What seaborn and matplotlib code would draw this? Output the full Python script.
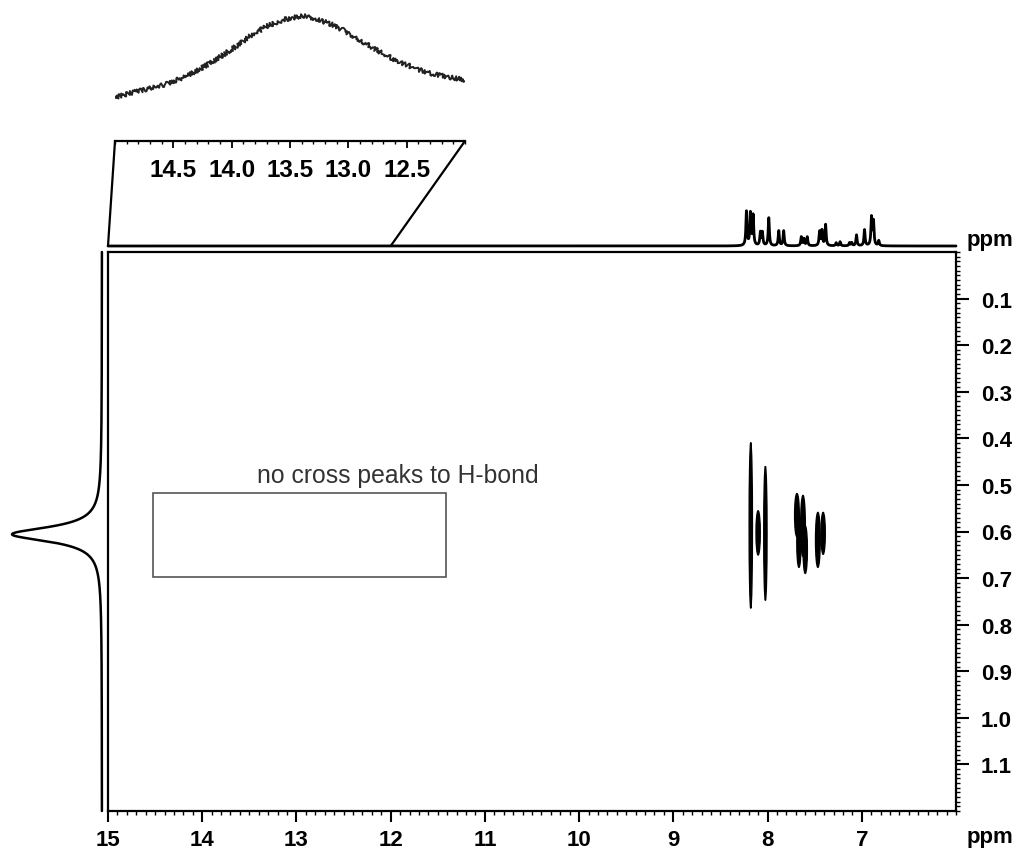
import numpy as np
import matplotlib
matplotlib.use("Agg")
import matplotlib.pyplot as plt
from matplotlib.patches import Ellipse, Rectangle, ConnectionPatch
from matplotlib.ticker import MultipleLocator
import seaborn as sns

# ------------------------------------------------------------
# Data
# ------------------------------------------------------------
# 1D projection on top (F2, ppm) : peak positions and relative heights
top_ppm = [8.224, 8.182, 8.153, 8.076, 8.055, 7.987, 7.881, 7.829, 7.642, 7.614,
           7.579, 7.448, 7.423, 7.384, 7.272, 7.230, 7.130, 7.106, 7.056, 6.971,
           6.897, 6.876, 6.820]
top_height = [1.00, 0.94, 0.88, 0.38, 0.38, 0.82, 0.44, 0.44, 0.26, 0.20,
              0.26, 0.41, 0.44, 0.62, 0.09, 0.12, 0.09, 0.09, 0.32, 0.47,
              0.82, 0.70, 0.15]
top_hwhm = 0.007

# Broad H-bond signal in the zoomed inset (ppm, intensity)
hump_ppm = [15.0, 14.843, 14.7, 14.557, 14.414, 14.271, 14.129, 13.986, 13.843,
            13.7, 13.557, 13.414, 13.357, 13.271, 13.129, 12.986, 12.843, 12.7,
            12.557, 12.414, 12.271, 12.129, 12.0]
hump_int = [43.7, 48.7, 52.7, 57.0, 63.7, 72.0, 82.0, 92.7, 104.7, 114.7, 121.3,
            124.7, 124.7, 122.0, 116.0, 107.0, 97.0, 87.0, 78.7, 72.0, 67.0, 63.7, 61.0]

# Projection on the left (F1, ppm)
left_ppm = [0.606]
left_height = [1.0]
left_hwhm = 0.019

# Cross peaks: centre (x, y), full extent along F1, width along F2
cross_x = [8.178, 8.100, 8.023, 7.688, 7.667, 7.624, 7.600, 7.466, 7.410]
cross_y = [0.587, 0.603, 0.604, 0.565, 0.622, 0.588, 0.639, 0.618, 0.604]
cross_len = [0.356, 0.095, 0.288, 0.093, 0.110, 0.131, 0.102, 0.118, 0.090]
cross_wid = [0.035, 0.045, 0.035, 0.050, 0.045, 0.050, 0.045, 0.050, 0.045]

# "no cross peaks" region
box_x = [14.52, 11.41]
box_y = [0.517, 0.697]
note_text = "no cross peaks to H-bond"

x_ticks = [15, 14, 13, 12, 11, 10, 9, 8, 7]
y_ticks = [0.1, 0.2, 0.3, 0.4, 0.5, 0.6, 0.7, 0.8, 0.9, 1.0, 1.1]
inset_ticks = [14.5, 14.0, 13.5, 13.0, 12.5]

# ------------------------------------------------------------
sns.set_theme(style="ticks")
plt.rcParams["font.family"] = ["Liberation Sans", "DejaVu Sans"]
plt.rcParams["axes.linewidth"] = 1.6
for k in ["text.color", "axes.edgecolor", "xtick.color", "ytick.color",
          "axes.labelcolor"]:
    plt.rcParams[k] = "black"

W, H = 1030, 854
fig = plt.figure(figsize=(W / 100, H / 100), dpi=100)


def box(l, t, r, b):
    return [l / W, 1 - b / H, (r - l) / W, (b - t) / H]


def lorentz_sum(grid, centres, heights, hwhm):
    out = np.zeros_like(grid)
    for c, h in zip(centres, heights):
        out += h * hwhm ** 2 / ((grid - c) ** 2 + hwhm ** 2)
    return out


ax = fig.add_axes(box(108, 253, 956, 812))
ax_top = fig.add_axes(box(108, 200, 956, 247))
ax_left = fig.add_axes(box(2, 253, 102, 812))
ax_in = fig.add_axes(box(115, 10, 465, 142))

tick_font = dict(fontsize=16, fontweight="bold")

# ---- main 2D plot ----
for x, y, ln, wd in zip(cross_x, cross_y, cross_len, cross_wid):
    ax.add_patch(Ellipse((x, y), wd, ln, facecolor="black", edgecolor="black", lw=1))
ax.add_patch(Rectangle((box_x[0], box_y[0]), box_x[1] - box_x[0], box_y[1] - box_y[0],
                       fill=False, edgecolor="#555555", lw=1.2))
ax.text(11.92, box_y[0] - 0.024, note_text, ha="center", va="baseline",
        fontsize=17.8, color="#333333")
ax.set_xlim(15, 6)
ax.set_ylim(1.2, 0)
ax.set_xticks(x_ticks)
ax.set_xticklabels([str(t) for t in x_ticks], **tick_font)
ax.xaxis.set_minor_locator(MultipleLocator(0.1))
ax.yaxis.tick_right()
ax.set_yticks(y_ticks)
ax.set_yticklabels([f"{t:.1f}" for t in y_ticks], **tick_font)
ax.yaxis.set_minor_locator(MultipleLocator(0.01))
ax.tick_params(axis="x", which="major", direction="out", length=8, width=1.5, pad=5,
               top=False)
ax.tick_params(axis="x", which="minor", direction="out", length=3, width=1, top=False)
ax.tick_params(axis="y", which="major", direction="out", length=9, width=1.5, pad=9,
               left=False, right=True)
ax.tick_params(axis="y", which="minor", direction="out", length=3, width=1,
               left=False, right=True)
for s in ax.spines.values():
    s.set_visible(True)
    s.set_linewidth(1.6)
ax.set_xlabel("")
ax.set_ylabel("")
ax.text(1.04, -0.045, "ppm", transform=ax.transAxes, ha="center", va="center", **tick_font)
ax.text(1.04, 1.022, "ppm", transform=ax.transAxes, ha="center", va="center", **tick_font)

# ---- top projection ----
grid_x = np.linspace(15, 6, 9001)
spec_top = lorentz_sum(grid_x, top_ppm, top_height, top_hwhm)
sns.lineplot(x=grid_x, y=spec_top, ax=ax_top, color="black", lw=2.0, sort=False,
             estimator=None)
for l in ax_top.lines:
    l.set_clip_on(False)
ax_top.set_xlim(15, 6)
ax_top.set_ylim(0, 47 / 34)
ax_top.axis("off")

# ---- left projection ----
grid_y = np.linspace(0, 1.2, 3001)
spec_left = lorentz_sum(grid_y, left_ppm, left_height, left_hwhm)
sns.lineplot(x=spec_left, y=grid_y, ax=ax_left, color="black", lw=1.8, sort=False,
             estimator=None, orient="y")
for l in ax_left.lines:
    l.set_clip_on(False)
ax_left.set_ylim(1.2, 0)
ax_left.set_xlim(100 / 90, 0)
ax_left.axis("off")

# ---- inset with the broad signal ----
sns.lineplot(x=hump_ppm, y=hump_int, ax=ax_in, color="#222222", lw=1.4, sort=False,
             estimator=None)
for l in ax_in.lines:
    l.set_sketch_params(scale=2.2, length=1.2, randomness=2)
ax_in.set_xlim(15, 12)
ax_in.set_ylim(0, 132)
ax_in.set_xticks(inset_ticks)
ax_in.set_xticklabels([f"{t:.1f}" for t in inset_ticks], fontsize=17.5, fontweight="bold")
ax_in.xaxis.set_minor_locator(MultipleLocator(0.1))
ax_in.tick_params(axis="x", which="major", direction="out", length=5, width=1.3, pad=7)
ax_in.tick_params(axis="x", which="minor", direction="out", length=2, width=1)
ax_in.set_yticks([])
for k in ["left", "right", "top"]:
    ax_in.spines[k].set_visible(False)
ax_in.spines["bottom"].set_linewidth(1.6)
ax_in.patch.set_alpha(0)

# parallelogram sides linking the inset to the top projection
for fa, xb in [(0, 15), (1, 12)]:
    con = ConnectionPatch(xyA=(fa, 0), coordsA=ax_in.transAxes,
                          xyB=(xb, 0), coordsB=ax_top.transData,
                          color="black", lw=1.6)
    fig.add_artist(con)

fig.savefig("out.png", dpi=100)
